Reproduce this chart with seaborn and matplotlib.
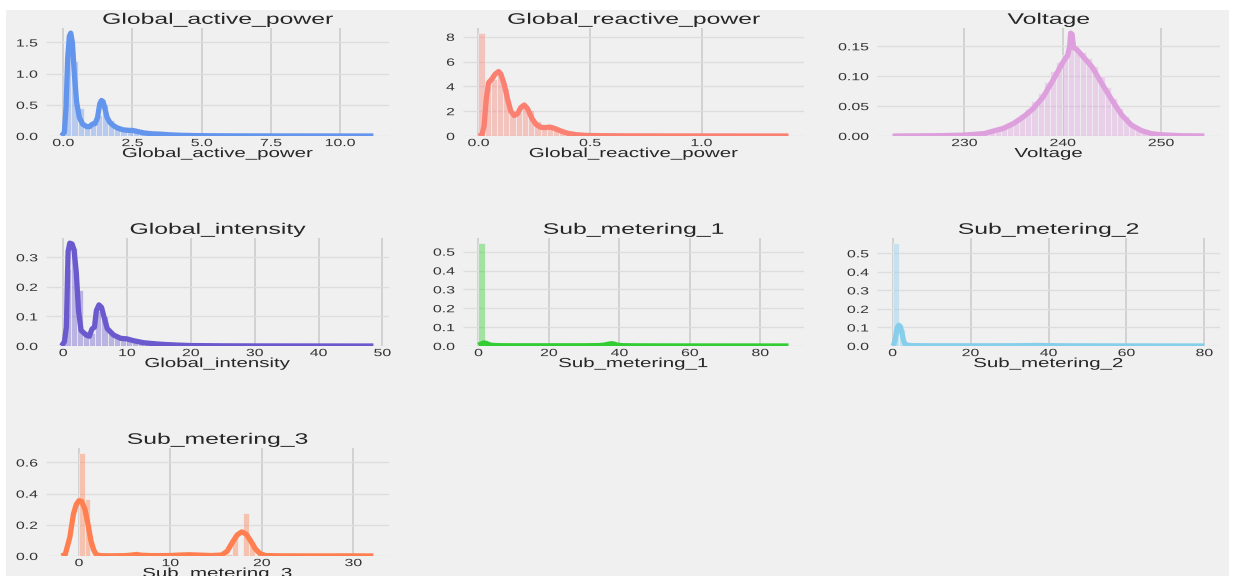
import numpy as np
import pandas as pd
import matplotlib
matplotlib.use("Agg")
import matplotlib.pyplot as plt
import seaborn as sns
from matplotlib.patches import Rectangle
from matplotlib.patheffects import AbstractPathEffect
from matplotlib.transforms import Affine2D

# ---------------------------------------------------------------- data
columns = ["Global_active_power", "Global_reactive_power", "Voltage",
           "Global_intensity", "Sub_metering_1", "Sub_metering_2",
           "Sub_metering_3"]
colors = ["cornflowerblue", "salmon", "plum", "slateblue",
          "limegreen", "skyblue", "coral"]

# value range covered by the 50 histogram bins of each column
hist_range = {
    "Global_active_power": (0.076, 11.122),
    "Global_reactive_power": (0.0, 1.39),
    "Voltage": (223.2, 254.15),
    "Global_intensity": (0.2, 48.4),
    "Sub_metering_1": (0.0, 88.0),
    "Sub_metering_2": (0.0, 80.0),
    "Sub_metering_3": (0.0, 31.0),
}

# histogram densities (50 bins each)
hist_active = [1.30, 1.20, 0.45, 0.20, 0.17, 0.33, 0.52, 0.26, 0.16, 0.12,
               0.095, 0.085, 0.065, 0.05, 0.04, 0.032, 0.026, 0.02, 0.015, 0.011,
               0.008, 0.006, 0.0045, 0.0035, 0.0028, 0.0022, 0.0018, 0.0015, 0.0012, 0.001,
               0.0008, 0.0007, 0.0006, 0.0005, 0.0004, 0.0003, 0.00025, 0.0002, 0.00015, 0.00012,
               0.0001, 0.0001, 0.00008, 0.00006, 0.00005, 0.00004, 0.00003, 0.00002, 0.00002, 0.00001]
hist_reactive = [8.3, 4.0, 4.6, 5.0, 3.9, 1.8, 1.9, 2.5, 2.1, 1.2,
                 0.8, 0.75, 0.6, 0.4, 0.25, 0.15, 0.1, 0.07, 0.05, 0.04,
                 0.032, 0.026, 0.021, 0.017, 0.014, 0.012, 0.01, 0.009, 0.008, 0.007,
                 0.006, 0.005, 0.0045, 0.004, 0.0035, 0.003, 0.0026, 0.0022, 0.0019, 0.0016,
                 0.0013, 0.0011, 0.0009, 0.0007, 0.0006, 0.0005, 0.0004, 0.0003, 0.0002, 0.0001]
hist_voltage = [0.0001, 0.0001, 0.0002, 0.0002, 0.0003, 0.0004, 0.0005, 0.0007, 0.001, 0.0013,
                0.0018, 0.0025, 0.0035, 0.005, 0.007, 0.009, 0.012, 0.016, 0.021, 0.028,
                0.036, 0.045, 0.058, 0.072, 0.09, 0.108, 0.124, 0.136, 0.148, 0.145,
                0.14, 0.13, 0.117, 0.1, 0.082, 0.064, 0.047, 0.033, 0.022, 0.014,
                0.009, 0.0055, 0.0035, 0.002, 0.0012, 0.0007, 0.0004, 0.0002, 0.0001, 0.0001]
hist_intensity = [0.26, 0.33, 0.19, 0.05, 0.045, 0.12, 0.1, 0.05, 0.032, 0.025,
                  0.023, 0.019, 0.014, 0.01, 0.009, 0.008, 0.006, 0.0045, 0.0035, 0.0028,
                  0.0022, 0.0018, 0.0015, 0.0012, 0.001, 0.0009, 0.0008, 0.0007, 0.0006, 0.0005,
                  0.0004, 0.00035, 0.0003, 0.00025, 0.0002, 0.00018, 0.00015, 0.00012, 0.0001, 0.00009,
                  0.00008, 0.00007, 0.00006, 0.00005, 0.00004, 0.00003, 0.00003, 0.00002, 0.00002, 0.00001]
hist_sub1 = [0.545, 0.012, 0.004, 0.002, 0.0015, 0.0012, 0.001, 0.001, 0.0009, 0.0009,
             0.0009, 0.0009, 0.001, 0.001, 0.0011, 0.0012, 0.0015, 0.0018, 0.0025, 0.004,
             0.008, 0.009, 0.004, 0.002, 0.0012, 0.0008, 0.0006, 0.0005, 0.0004, 0.0004,
             0.0003, 0.0003, 0.0003, 0.0002, 0.0002, 0.0002, 0.0002, 0.0001, 0.0001, 0.0001,
             0.0001, 0.0001, 0.0001, 0.0001, 0.0001, 0.0001, 0.0001, 0.0001, 0.0001, 0.0001]
hist_sub2 = [0.555, 0.09, 0.012, 0.004, 0.003, 0.002, 0.0015, 0.0012, 0.001, 0.001,
             0.001, 0.001, 0.001, 0.001, 0.001, 0.001, 0.001, 0.001, 0.001, 0.001,
             0.0012, 0.0015, 0.002, 0.0018, 0.0012, 0.0008, 0.0006, 0.0005, 0.0004, 0.0004,
             0.0003, 0.0003, 0.0003, 0.0002, 0.0002, 0.0002, 0.0002, 0.0001, 0.0001, 0.0001,
             0.0001, 0.0001, 0.0001, 0.0001, 0.0001, 0.0001, 0.0001, 0.0001, 0.0001, 0.0001]
hist_sub3 = [0.66, 0.365, 0.0, 0.012, 0.004, 0.0, 0.002, 0.0, 0.002, 0.006,
             0.004, 0.003, 0.0, 0.002, 0.0, 0.002, 0.002, 0.0, 0.003, 0.005,
             0.006, 0.0, 0.004, 0.003, 0.0, 0.004, 0.015, 0.12, 0.0, 0.275,
             0.09, 0.0, 0.008, 0.0, 0.002, 0.0, 0.001, 0.001, 0.0, 0.001,
             0.0, 0.001, 0.0, 0.001, 0.0, 0.0005, 0.0005, 0.0, 0.0005, 0.0005]

# kernel density estimates
kde_active_x = [-0.06, 0.04, 0.10, 0.16, 0.22, 0.27, 0.33, 0.40, 0.48, 0.58,
                0.70, 0.85, 0.95, 1.05, 1.15, 1.24, 1.32, 1.38, 1.44, 1.50,
                1.58, 1.68, 1.80, 1.95, 2.15, 2.35, 2.5, 2.7, 2.9, 3.2,
                3.5, 3.8, 4.2, 4.7, 5.3, 6.2, 7.5, 9.0, 11.2]
kde_active_y = [0.0, 0.06, 0.45, 1.25, 1.6, 1.65, 1.5, 1.0, 0.55, 0.3,
                0.19, 0.15, 0.15, 0.19, 0.2, 0.3, 0.52, 0.57, 0.55, 0.45,
                0.3, 0.22, 0.17, 0.13, 0.1, 0.09, 0.09, 0.07, 0.05, 0.035,
                0.03, 0.02, 0.012, 0.007, 0.004, 0.002, 0.001, 0.0005, 0.0]
kde_reactive_x = [0.0, 0.015, 0.025, 0.035, 0.045, 0.06, 0.075, 0.09, 0.10, 0.115,
                  0.13, 0.145, 0.16, 0.175, 0.19, 0.205, 0.22, 0.24, 0.26, 0.28,
                  0.30, 0.32, 0.34, 0.37, 0.40, 0.44, 0.48, 0.55, 0.65, 0.8,
                  1.0, 1.2, 1.39]
kde_reactive_y = [0.0, 0.05, 0.8, 3.0, 4.3, 4.6, 5.0, 5.2, 5.0, 4.2,
                  3.0, 2.0, 1.65, 1.8, 2.3, 2.5, 2.2, 1.4, 0.9, 0.7,
                  0.68, 0.72, 0.62, 0.4, 0.22, 0.1, 0.05, 0.025, 0.012, 0.006,
                  0.003, 0.001, 0.0]
kde_voltage_x = [222.7, 226, 228, 230, 232, 234, 235, 236, 237, 238,
                 239, 240, 240.5, 240.7, 240.8, 240.95, 241.1, 241.4, 242, 243,
                 244, 245, 246, 247, 248, 249, 250, 252, 254.4]
kde_voltage_y = [0.0, 0.0003, 0.0007, 0.0015, 0.004, 0.013, 0.021, 0.032, 0.046, 0.065,
                 0.093, 0.123, 0.135, 0.15, 0.172, 0.17, 0.148, 0.145, 0.134, 0.115,
                 0.087, 0.06, 0.035, 0.018, 0.009, 0.004, 0.002, 0.0005, 0.0]
kde_intensity_x = [-0.25, 0.2, 0.5, 0.77, 1.03, 1.4, 1.7, 2.05, 2.4, 2.8,
                   3.6, 4.1, 4.5, 4.9, 5.2, 5.6, 6.0, 6.4, 6.9, 7.9,
                   9.0, 10.0, 11.0, 12.6, 14.6, 16.0, 18.0, 20.0, 25.0, 30.0,
                   40.0, 48.6]
kde_intensity_y = [0.0, 0.015, 0.065, 0.32, 0.348, 0.345, 0.325, 0.25, 0.12, 0.053,
                   0.037, 0.033, 0.057, 0.064, 0.12, 0.139, 0.131, 0.098, 0.059, 0.037,
                   0.026, 0.024, 0.018, 0.011, 0.007, 0.005, 0.003, 0.0015, 0.0006, 0.0003,
                   0.0001, 0.0]
kde_sub1_x = [0, 0.8, 1.5, 2.2, 3.0, 4.0, 6.0, 10, 20, 30,
              34, 35.5, 36.5, 37.3, 38.0, 38.7, 39.5, 41, 45, 55,
              70, 88]
kde_sub1_y = [0.004, 0.011, 0.016, 0.014, 0.007, 0.003, 0.0015, 0.001, 0.001, 0.0012,
              0.002, 0.004, 0.008, 0.011, 0.012, 0.009, 0.004, 0.0015, 0.0008, 0.0004,
              0.0002, 0.0]
kde_sub2_x = [0, 0.4, 0.8, 1.2, 1.6, 2.0, 2.4, 2.8, 3.2, 3.8,
              5, 10, 20, 30, 35, 37, 39, 45, 60, 80]
kde_sub2_y = [0.0, 0.01, 0.05, 0.1, 0.112, 0.105, 0.07, 0.03, 0.01, 0.004,
              0.002, 0.001, 0.001, 0.0012, 0.002, 0.003, 0.002, 0.0008, 0.0004, 0.0]
kde_sub3_x = [-1.9, -1.5, -1.0, -0.6, -0.3, 0.0, 0.3, 0.65, 1.0, 1.3,
              1.6, 1.9, 2.4, 3.5, 5.0, 5.8, 6.3, 6.8, 8.0, 10.0,
              11.0, 12.0, 13.0, 14.5, 15.6, 16.2, 16.8, 17.3, 17.8, 18.3,
              18.8, 19.3, 19.8, 20.4, 22.0, 26.0, 30.0, 32.2]
kde_sub3_y = [0.0, 0.01, 0.12, 0.27, 0.33, 0.355, 0.35, 0.3, 0.2, 0.1,
              0.04, 0.008, 0.002, 0.001, 0.002, 0.006, 0.01, 0.005, 0.002, 0.003,
              0.006, 0.008, 0.006, 0.003, 0.006, 0.03, 0.09, 0.135, 0.155, 0.14,
              0.095, 0.045, 0.015, 0.003, 0.001, 0.0005, 0.001, 0.0]

hist_heights = [hist_active, hist_reactive, hist_voltage, hist_intensity,
                hist_sub1, hist_sub2, hist_sub3]
kde_curves = [(kde_active_x, kde_active_y), (kde_reactive_x, kde_reactive_y),
              (kde_voltage_x, kde_voltage_y), (kde_intensity_x, kde_intensity_y),
              (kde_sub1_x, kde_sub1_y), (kde_sub2_x, kde_sub2_y),
              (kde_sub3_x, kde_sub3_y)]

# tick values per panel
x_ticks = [[0, 2.5, 5, 7.5, 10], [0, 0.5, 1.0], [230, 240, 250],
           [0, 10, 20, 30, 40, 50], [0, 20, 40, 60, 80], [0, 20, 40, 60, 80],
           [0, 10, 20, 30]]
y_ticks = [[0, 0.5, 1.0, 1.5], [0, 2, 4, 6, 8], [0, 0.05, 0.10, 0.15],
           [0, 0.1, 0.2, 0.3], [0, 0.1, 0.2, 0.3, 0.4, 0.5],
           [0, 0.1, 0.2, 0.3, 0.4, 0.5], [0, 0.2, 0.4, 0.6]]


# ---------------------------------------------------------------- helpers
class Widen(AbstractPathEffect):
    """Draw text glyphs horizontally widened around a chosen anchor."""

    def __init__(self, sx, anchor="center"):
        super().__init__()
        self.sx = sx
        self.anchor = anchor

    def draw_path(self, renderer, gc, tpath, affine, rgbFace=None):
        if len(tpath.vertices) == 0:
            renderer.draw_path(gc, tpath, affine, rgbFace)
            return
        ext = tpath.get_extents()
        if self.anchor == "right":
            cx = ext.x1
        elif self.anchor == "left":
            cx = ext.x0
        else:
            cx = 0.5 * (ext.x0 + ext.x1)
        widen = Affine2D().translate(-cx, 0).scale(self.sx, 1).translate(cx, 0)
        renderer.draw_path(gc, tpath, widen + affine, rgbFace)


# ---------------------------------------------------------------- style
plt.style.use("fivethirtyeight")
plt.rcParams["font.family"] = ["Liberation Sans", "DejaVu Sans"]
text_color = "#333333"
bg = "#f0f0f0"

W, H = 1234, 576
fig = plt.figure(figsize=(W / 100, H / 100), dpi=100, facecolor="white")
fig.patches.append(Rectangle((6 / W, 0), 1223 / W, 566 / H, transform=fig.transFigure,
                             facecolor=bg, edgecolor="none", zorder=-10))

col_left = [46, 463, 877]
col_width = [343, 341, 343]
row_top = [28, 238, 448]
ax_height = 108

for i, name in enumerate(columns):
    r, c = divmod(i, 3)
    rect = [col_left[c] / W, 1 - (row_top[r] + ax_height) / H,
            col_width[c] / W, ax_height / H]
    ax = fig.add_axes(rect)
    ax.set_facecolor(bg)

    lo, hi = hist_range[name]
    heights = hist_heights[i]
    n_bins = len(heights)
    width = (hi - lo) / n_bins
    frame = pd.DataFrame({
        "value": [lo + (k + 0.5) * width for k in range(n_bins)],
        "density": heights,
    })

    sns.histplot(data=frame, x="value", weights="density", bins=n_bins,
                 binrange=(lo, hi), stat="count", color=colors[i], alpha=0.4,
                 edgecolor=bg, linewidth=0.5, ax=ax)
    kx, ky = kde_curves[i]
    sns.lineplot(x=kx, y=ky, color=colors[i], linewidth=3.8, ax=ax)

    ax.set_xticks(x_ticks[i])
    ax.set_yticks(y_ticks[i])
    ax.set_title(name, fontsize=11, color="#262626", pad=3)
    ax.set_xlabel(name, fontsize=9.5, color="#262626", labelpad=0)
    ax.set_ylabel("")

    for s in ax.spines.values():
        s.set_visible(False)
    ax.tick_params(axis="both", length=0, labelsize=7.5, colors=text_color)
    ax.tick_params(axis="x", pad=1.5)
    ax.tick_params(axis="y", pad=6)
    ax.grid(True)
    ax.xaxis.grid(True, color="#cccccc", linewidth=1.2)
    ax.yaxis.grid(True, color="#dddddd", linewidth=1.0)
    ax.set_axisbelow(True)

    ax.title.set_path_effects([Widen(1.62, "center")])
    ax.xaxis.label.set_path_effects([Widen(1.55, "center")])
    for lab in ax.get_xticklabels():
        lab.set_path_effects([Widen(1.52, "center")])
    for lab in ax.get_yticklabels():
        lab.set_path_effects([Widen(1.52, "right")])

fig.savefig("out.png", dpi=100, facecolor="white")
